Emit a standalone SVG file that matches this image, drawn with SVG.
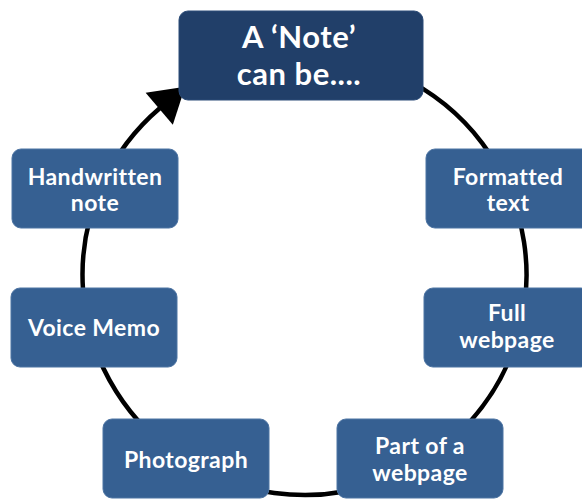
<svg xmlns="http://www.w3.org/2000/svg" width="582" height="499" viewBox="0 0 582 499">
<style>
.node{fill:#366092;stroke:#4d74a3;stroke-width:1}
.top{fill:#213f69;stroke:#2c4c78;stroke-width:1}
text{font-family:Lato,"Open Sans","Liberation Sans",sans-serif;font-weight:bold;fill:#ffffff;text-anchor:middle}
.t{font-size:23px;letter-spacing:0.4px}
.h{font-size:31px;letter-spacing:0.5px}
.cycle{fill:none;stroke:#000000;stroke-width:4.5}
</style>
<defs>
<marker id="arrow" markerUnits="userSpaceOnUse" markerWidth="40" markerHeight="44" refX="1" refY="21" orient="auto" overflow="visible">
<path d="M0,0 L34,21 L0,42 z" fill="#000000"/>
</marker>
</defs>
<g id="connectors">
<path class="cycle" d="M304.5,55 A222,220 0 1 1 160,108" marker-end="url(#arrow)"/>
</g>
<g id="node-title">
<rect class="top" x="179" y="11" width="244" height="89" rx="9"/>
<text class="h" x="299" y="48">A ‘Note’</text>
<text class="h" x="299" y="85">can be....</text>
</g>
<g id="node-formatted">
<rect class="node" x="426" y="149" width="166" height="79" rx="9"/>
<text class="t" x="508" y="185">Formatted</text>
<text class="t" x="508" y="211">text</text>
</g>
<g id="node-full">
<rect class="node" x="424" y="288" width="166" height="79" rx="9"/>
<text class="t" x="507" y="321">Full</text>
<text class="t" x="507" y="348">webpage</text>
</g>
<g id="node-part">
<rect class="node" x="337" y="419" width="166" height="79" rx="9"/>
<text class="t" x="420" y="454">Part of a</text>
<text class="t" x="420" y="481">webpage</text>
</g>
<g id="node-photo">
<rect class="node" x="103" y="419" width="166" height="79" rx="9"/>
<text class="t" x="186" y="468">Photograph</text>
</g>
<g id="node-voice">
<rect class="node" x="11" y="288" width="166" height="79" rx="9"/>
<text class="t" x="94" y="336">Voice Memo</text>
</g>
<g id="node-handwritten">
<rect class="node" x="12" y="149" width="166" height="79" rx="9"/>
<text class="t" x="95" y="185">Handwritten</text>
<text class="t" x="95" y="211">note</text>
</g>
</svg>
